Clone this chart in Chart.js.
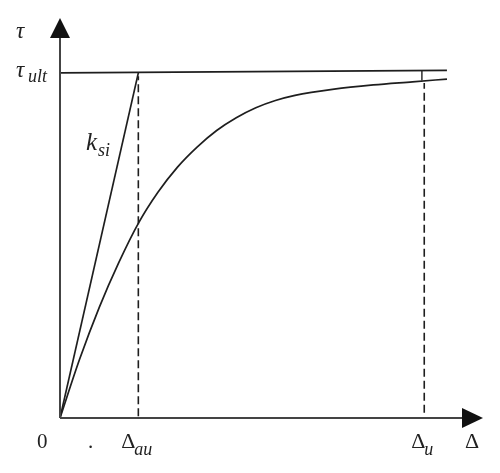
<!DOCTYPE html>
<html>
<head>
<meta charset="utf-8">
<script src="https://cdn.jsdelivr.net/npm/chart.js@4.4.1/dist/chart.umd.min.js"></script>
<style>
html,body{margin:0;padding:0;background:#fff;}
#wrap{width:500px;height:473px;}
</style>
</head>
<body>
<div id="wrap"><canvas id="c" width="500" height="473"></canvas></div>
<script>
// Normalised schematic values: x in units of Δau, y in units of τult
const curveX = [0, 0.25, 0.5, 0.75, 1.0, 1.25, 1.5, 1.75, 2.0, 2.25, 2.5, 2.75, 3.0, 3.5, 4.0, 4.5, 4.94];
const curveY = [0, 0.170, 0.320, 0.450, 0.564, 0.654, 0.727, 0.785, 0.833, 0.870, 0.899, 0.920, 0.935, 0.953, 0.965, 0.974, 0.982];
const ksiX = [0, 1.0];
const ksiY = [0, 1.0];
const ultX = [0, 4.94];
const ultY = [1.0, 1.007];
const deltaAu = 1.0;
const deltaU = 4.65;
const xMax = 5.40;
const yMax = 1.159;

const pts = (xs, ys) => xs.map((x, i) => ({x: x, y: ys[i]}));

const ink = '#1e1e1e';

const overlay = {
  id: 'overlay',
  afterDatasetsDraw(chart) {
    const ctx = chart.ctx;
    const xs = chart.scales.x, ys = chart.scales.y;
    const ox = xs.getPixelForValue(0), oy = ys.getPixelForValue(0);
    const xEnd = xs.getPixelForValue(xMax), yEnd = ys.getPixelForValue(yMax);
    ctx.save();
    ctx.strokeStyle = '#444';
    ctx.lineWidth = 2;
    ctx.beginPath();
    ctx.moveTo(ox, oy); ctx.lineTo(xEnd - 20, oy);
    ctx.moveTo(ox, oy); ctx.lineTo(ox, yEnd + 19);
    ctx.stroke();
    ctx.fillStyle = '#111';
    ctx.beginPath();
    ctx.moveTo(xEnd, oy); ctx.lineTo(xEnd - 21, oy - 10); ctx.lineTo(xEnd - 21, oy + 10); ctx.closePath();
    ctx.fill();
    ctx.beginPath();
    ctx.moveTo(ox, yEnd); ctx.lineTo(ox - 10, yEnd + 20); ctx.lineTo(ox + 10, yEnd + 20); ctx.closePath();
    ctx.fill();

    ctx.fillStyle = '#222';
    ctx.textBaseline = 'alphabetic';
    const serif = '"Liberation Serif", "DejaVu Serif", serif';
    const yUlt = ys.getPixelForValue(1.0);
    ctx.textAlign = 'left';
    ctx.font = 'italic 23px ' + serif;
    ctx.fillText('τ', 16, 38);
    ctx.fillText('τ', 16, yUlt + 4);
    ctx.font = 'italic 18px ' + serif;
    ctx.fillText('ult', 28, yUlt + 9);
    ctx.font = 'italic 25px ' + serif;
    ctx.fillText('k', 86, 150);
    ctx.font = 'italic 18px ' + serif;
    ctx.fillText('si', 98, 156);
    ctx.font = '21px ' + serif;
    ctx.fillText('0', 37, 448);
    ctx.fillText('.', 88, 448);
    const pau = xs.getPixelForValue(deltaAu);
    ctx.font = '22px ' + serif;
    ctx.fillText('Δ', pau - 17, 448);
    ctx.font = 'italic 18px ' + serif;
    ctx.fillText('au', pau - 4, 455);
    const pu = xs.getPixelForValue(deltaU);
    ctx.font = '22px ' + serif;
    ctx.fillText('Δ', pu - 13, 448);
    ctx.font = 'italic 18px ' + serif;
    ctx.fillText('u', pu, 455);
    ctx.font = '22px ' + serif;
    ctx.fillText('Δ', 465, 448);
    ctx.restore();
  }
};

new Chart(document.getElementById('c'), {
  type: 'scatter',
  data: {
    datasets: [
      {data: pts(curveX, curveY), showLine: true, borderColor: ink, borderWidth: 1.7, pointRadius: 0, cubicInterpolationMode: 'monotone', fill: false},
      {data: pts(ksiX, ksiY), showLine: true, borderColor: ink, borderWidth: 1.7, pointRadius: 0, fill: false},
      {data: pts(ultX, ultY), showLine: true, borderColor: ink, borderWidth: 1.7, pointRadius: 0, fill: false},
      {data: pts([deltaAu, deltaAu], [0.005, 0.99]), showLine: true, borderColor: ink, borderWidth: 1.6, borderDash: [8, 4], pointRadius: 0, fill: false},
      {data: pts([deltaU, deltaU], [0.015, 0.971]), showLine: true, borderColor: ink, borderWidth: 1.6, borderDash: [8, 4], pointRadius: 0, fill: false},
      {data: pts([4.62, 4.62], [0.978, 1.006]), showLine: true, borderColor: ink, borderWidth: 1.4, pointRadius: 0, fill: false}
    ]
  },
  options: {
    responsive: false,
    animation: false,
    devicePixelRatio: 1,
    layout: {padding: {left: 60, right: 17, top: 18, bottom: 55}},
    plugins: {legend: {display: false}, tooltip: {enabled: false}},
    scales: {
      x: {type: 'linear', display: false, min: 0, max: xMax},
      y: {type: 'linear', display: false, min: 0, max: yMax}
    }
  },
  plugins: [overlay]
});
</script>
</body>
</html>
